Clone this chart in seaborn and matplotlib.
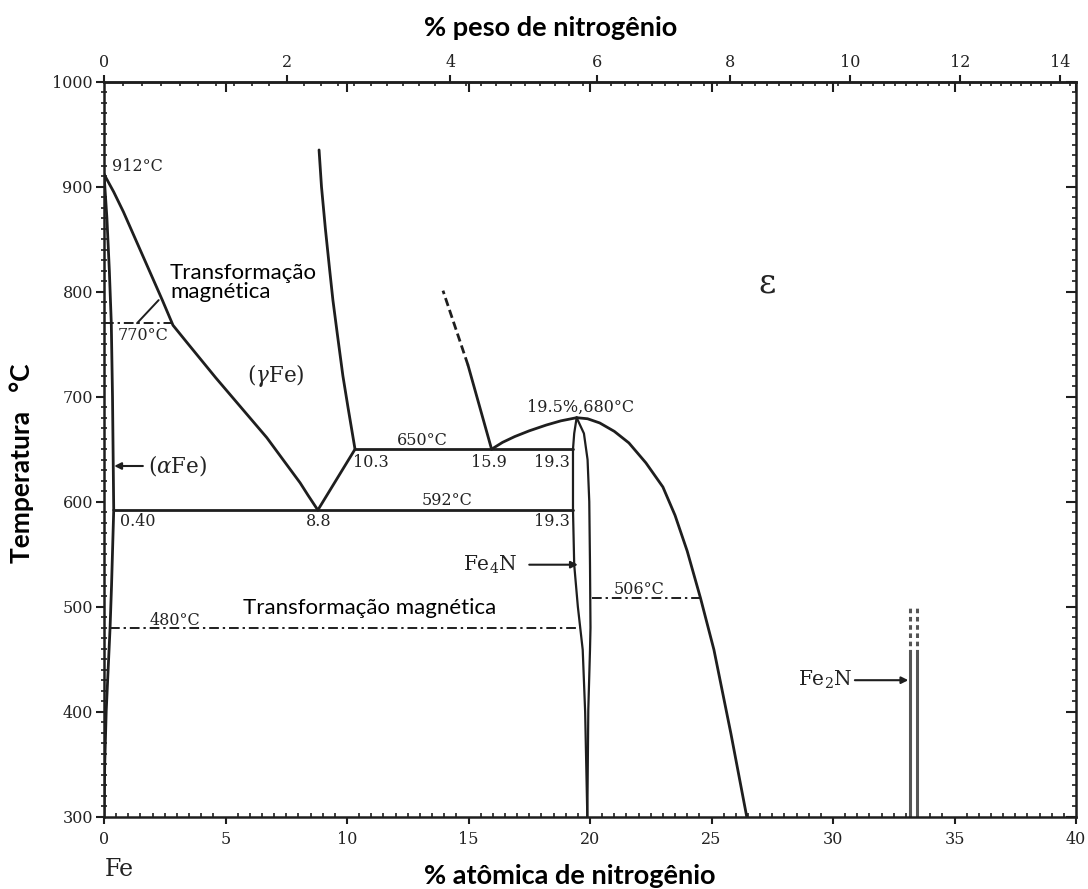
import numpy as np
import matplotlib
matplotlib.use("Agg")
import matplotlib.pyplot as plt
import seaborn as sns
from matplotlib.ticker import MultipleLocator, FixedLocator, NullFormatter

# ---------------- data (x = % atômica N, T = °C) ----------------
ag_x = [0.0, 0.4, 0.8, 1.2, 1.6, 2.0, 2.4, 2.84, 3.4, 4.0, 4.6, 5.3, 6.0, 6.7, 7.4, 8.07, 8.4, 8.8]
ag_T = [912, 895, 876, 855, 834, 813, 792, 768, 752, 735, 718, 699, 680, 661, 639, 618, 606, 592]
aup_x = [0.0, 0.12, 0.22, 0.30, 0.35, 0.40]
aup_T = [912, 870, 820, 770, 700, 592]
asol_x = [0.40, 0.36, 0.31, 0.25, 0.17, 0.09, 0.03, 0.0]
asol_T = [592, 560, 520, 480, 440, 400, 350, 300]
gr_x = [8.85, 8.95, 9.11, 9.29, 9.42, 9.60, 9.83, 10.04, 10.33]
gr_T = [935, 900, 860, 820, 792, 760, 720, 690, 650]
gl_x = [8.80, 10.33]
gl_T = [592, 650]
e592_x = [0.40, 19.30]
e592_T = [592, 592]
e650_x = [10.33, 19.30]
e650_T = [650, 650]
es_x = [15.95, 14.98]
es_T = [650, 730]
ed_x = [14.98, 13.95]
ed_T = [730, 801]
etop_x = [15.95, 16.4, 16.9, 17.5, 18.2, 18.8, 19.45]
etop_T = [650, 656.5, 662, 667.5, 673, 677, 680]
er_x = [19.45, 19.9, 20.4, 21.0, 21.6, 22.3, 23.0, 23.5, 24.0, 24.55, 25.1, 25.8, 26.45]
er_T = [680, 679, 675, 667, 656, 637, 614, 587, 553, 508, 459, 379, 300]
gpl_x = [19.45, 19.35, 19.30, 19.30, 19.35, 19.50, 19.70, 19.80, 19.89]
gpl_T = [680, 665, 650, 592, 540, 500, 459, 400, 300]
gpr_x = [19.45, 19.75, 19.90, 19.97, 20.00, 20.02, 20.00, 19.93, 19.89]
gpr_T = [680, 665, 640, 600, 540, 480, 459, 402, 300]
c770_x = [0.0, 2.84]
c770_T = [770, 770]
ptr_x = [1.36, 2.25]
ptr_T = [770, 792]
c480_x = [0.25, 19.60]
c480_T = [480, 480]
c506_x = [20.08, 24.55]
c506_T = [508, 508]
fe2n_x = [33.15, 33.45]
fe2n_solid_T = [300, 455]
fe2n_dash_T = [455, 502]

bottom_ticks = [0, 5, 10, 15, 20, 25, 30, 35, 40]
top_ticks = [0, 2, 4, 6, 8, 10, 12, 14]
y_ticks = [300, 400, 500, 600, 700, 800, 900, 1000]

LINE = "#1e1e1e"
TXT = "#232323"

sns.set_style("white")
plt.rcParams["font.family"] = ["DejaVu Serif"]
plt.rcParams["mathtext.fontset"] = "dejavuserif"

fig = plt.figure(figsize=(10.88, 8.89), dpi=100)
ax = fig.add_axes([104 / 1088, 1 - 816.7 / 889, 972 / 1088, 735 / 889])


def draw(x, y, ls="-", lw=2.0, color=LINE):
    sns.lineplot(x=x, y=y, sort=False, estimator=None, ax=ax,
                 color=color, lw=lw, linestyle=ls)


DASHDOT = (0, (5, 2, 1.2, 2))
draw(ag_x, ag_T)
draw(aup_x, aup_T)
draw(asol_x, asol_T)
draw(gr_x, gr_T)
draw(gl_x, gl_T)
draw(e592_x, e592_T)
draw(e650_x, e650_T)
draw(es_x, es_T)
draw(ed_x, ed_T, ls=(0, (3, 1.5)))
draw(etop_x, etop_T)
draw(er_x, er_T)
draw(gpl_x, gpl_T, lw=1.6)
draw(gpr_x, gpr_T, lw=1.6)
draw(c770_x, c770_T, ls=DASHDOT, lw=1.4)
draw(ptr_x, ptr_T, lw=1.4)
draw(c480_x, c480_T, ls=DASHDOT, lw=1.4)
draw(c506_x, c506_T, ls=DASHDOT, lw=1.4)
for fx in fe2n_x:
    draw([fx, fx], fe2n_solid_T, lw=2.2, color="#555555")
    draw([fx, fx], fe2n_dash_T, ls=(0, (1.5, 1.2)), lw=2.2, color="#555555")

ax.set_xlim(0, 40)
ax.set_ylim(300, 1000)
ax.set_xlabel("")
ax.set_ylabel("")

for sp in ax.spines.values():
    sp.set_linewidth(1.8)
    sp.set_color(LINE)

TICKFONT = dict(labelsize=11.5, labelcolor=TXT, labelfontfamily="DejaVu Serif")
ax.set_xticks(bottom_ticks)
ax.xaxis.set_minor_locator(MultipleLocator(0.5))
ax.set_yticks(y_ticks)
ax.yaxis.set_minor_locator(MultipleLocator(10))
ax.tick_params(axis="x", which="major", direction="out", length=5, width=1.5,
               bottom=True, top=False, color=LINE, pad=5)
ax.tick_params(axis="x", which="minor", direction="in", length=3, width=1.2,
               bottom=True, top=False, color=LINE)
ax.tick_params(axis="y", which="major", direction="out", length=6, width=1.5,
               left=True, right=False, color=LINE, pad=2)
ax.tick_params(axis="y", which="minor", direction="inout", length=4, width=1.2,
               left=True, right=False, color=LINE)
ax.tick_params(**TICKFONT)


def at2wt(x):
    x = np.asarray(x, dtype=float)
    with np.errstate(divide="ignore", invalid="ignore"):
        return 100 * x * 14.007 / (x * 14.007 + (100 - x) * 55.845)


def wt2at(w):
    w = np.asarray(w, dtype=float)
    with np.errstate(divide="ignore", invalid="ignore"):
        a = w / 14.007
        b = (100 - w) / 55.845
        return 100 * a / (a + b)


top = ax.secondary_xaxis("top", functions=(at2wt, wt2at))
top.set_xticks(top_ticks)
top.xaxis.set_minor_locator(FixedLocator(np.arange(0, 14.4, 0.2)))
top.tick_params(which="major", direction="out", length=5, width=1.5, color=LINE, pad=3,
                **TICKFONT)
top.tick_params(which="minor", direction="in", length=3, width=1.2, color=LINE)
top.spines["top"].set_linewidth(1.8)

top2 = ax.secondary_xaxis("top")
top2.set_xticks(bottom_ticks[1:])
top2.xaxis.set_major_formatter(NullFormatter())
top2.tick_params(which="major", direction="in", length=7, width=1.5, color=LINE)
top2.spines["top"].set_visible(False)

right = ax.secondary_yaxis("right")
right.set_yticks(y_ticks)
right.yaxis.set_minor_locator(MultipleLocator(10))
right.yaxis.set_major_formatter(NullFormatter())
right.tick_params(which="major", direction="in", length=7, width=1.5, color=LINE)
right.tick_params(which="minor", direction="in", length=3, width=1.2, color=LINE)

# ---------------- labels in the diagram ----------------
lab = dict(fontsize=11.5, color=TXT, family="DejaVu Serif")
ax.text(0.33, 919, "912°C", ha="left", va="center", **lab)
ax.text(0.58, 758, "770°C", ha="left", va="center", **lab)
ax.text(7.08, 720, "($\\gamma$Fe)", ha="center", va="center", fontsize=15.5, color=TXT)
ax.text(1.81, 634, "($\\alpha$Fe)", ha="left", va="center", fontsize=15.5, color=TXT)
ax.text(0.66, 581, "0.40", ha="left", va="center", **lab)
ax.text(8.85, 581, "8.8", ha="center", va="center", **lab)
ax.text(11.0, 637, "10.3", ha="center", va="center", **lab)
ax.text(13.1, 658, "650°C", ha="center", va="center", **lab)
ax.text(15.85, 637, "15.9", ha="center", va="center", **lab)
ax.text(18.45, 637, "19.3", ha="center", va="center", **lab)
ax.text(14.1, 601, "592°C", ha="center", va="center", **lab)
ax.text(18.45, 581, "19.3", ha="center", va="center", **lab)
ax.text(19.6, 690, "19.5%,680°C", ha="center", va="center", **lab)
ax.text(2.9, 487, "480°C", ha="center", va="center", **lab)
ax.text(22.0, 516, "506°C", ha="center", va="center", **lab)
ax.text(27.3, 808, "ε", ha="center", va="center", fontsize=24, color=TXT)
ax.text(17.0, 540, "Fe$_4$N", ha="right", va="center", fontsize=14.5, color=TXT)
ax.text(30.8, 430, "Fe$_2$N", ha="right", va="center", fontsize=14.5, color=TXT)
ax.text(0.05, 250, "Fe", ha="left", va="center", fontsize=17, color=TXT, clip_on=False)

arrow = dict(arrowstyle="-|>", color=LINE, lw=1.5, mutation_scale=10, shrinkA=0, shrinkB=0)
ax.annotate("", xy=(0.42, 634), xytext=(1.6, 634), arrowprops=arrow)
ax.annotate("", xy=(19.5, 540), xytext=(17.5, 540), arrowprops=arrow)
ax.annotate("", xy=(33.1, 430), xytext=(30.9, 430), arrowprops=arrow)

sans = dict(family=["Lato", "DejaVu Sans"], color="black")
ax.text(2.72, 809, "Transformação\nmagnética", ha="left", va="center", fontsize=16,
        linespacing=0.95, **sans)
ax.text(5.72, 499, "Transformação magnética", ha="left", va="center", fontsize=16, **sans)

fig.text(551 / 1088, 1 - 28 / 889, "% peso de nitrogênio", ha="center", va="center",
         fontsize=19.5, fontweight="bold", **sans)
fig.text(570 / 1088, 1 - 876 / 889, "% atômica de nitrogênio", ha="center", va="center",
         fontsize=19.5, fontweight="bold", **sans)
fig.text(22 / 1088, 1 - 463 / 889, "Temperatura   °C", ha="center", va="center",
         rotation=90, fontsize=19, fontweight="bold", **sans)

fig.savefig("out.png", dpi=100)
